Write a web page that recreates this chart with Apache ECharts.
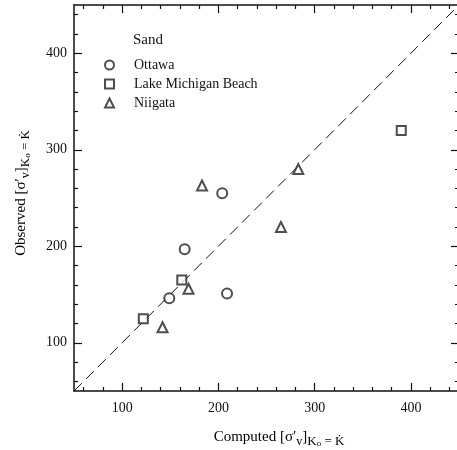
<!DOCTYPE html>
<html>
<head>
<meta charset="utf-8">
<script src="https://cdn.jsdelivr.net/npm/echarts@6/dist/echarts.min.js"></script>
<style>
  html, body { margin: 0; padding: 0; background: #fff; }
  #chart { width: 457px; height: 450px; }
</style>
</head>
<body>
<div id="chart"></div>
<script>
// data
const ottawa = [[204, 255], [165, 197], [209, 151], [149, 146]];
const lakeMichigan = [[390, 320], [162, 165], [122, 125]];
const niigata = [[183, 263], [283, 280], [265, 220], [169, 156], [142, 116]];
const oneToOne = [[50, 50], [450, 450]];

const majorTicks = [100, 200, 300, 400];
const minorTicks = [60, 80, 120, 140, 160, 180, 220, 240, 260, 280,
  320, 340, 360, 380, 420, 440];

const FONT = '"Liberation Serif", "DejaVu Serif", serif';
const INK = '#111';

function axis(dim, pos, major, showLine) {
  return {
    type: 'value',
    min: 50,
    max: 450,
    position: pos,
    axisLine: { show: showLine, onZero: false, lineStyle: { color: INK, width: 1.5 } },
    axisTick: {
      inside: true,
      length: major ? 8 : 4,
      customValues: major ? majorTicks : minorTicks,
      lineStyle: { color: INK, width: 1.2 }
    },
    axisLabel: {
      show: major && (pos === 'bottom' || pos === 'left'),
      customValues: majorTicks,
      margin: dim === 'x' ? 10 : 7,
      color: INK,
      fontFamily: FONT,
      fontSize: 14
    },
    splitLine: { show: false }
  };
}

const chart = echarts.init(document.getElementById('chart'));

const titleRich = {
  a: { fontFamily: FONT, fontSize: 15, color: INK, lineHeight: 22 },
  v: { fontFamily: FONT, fontSize: 12, color: INK, verticalAlign: 'bottom', lineHeight: 18 },
  s: { fontFamily: FONT, fontSize: 13, color: INK, verticalAlign: 'bottom' },
  ss: { fontFamily: FONT, fontSize: 9, color: INK, verticalAlign: 'bottom' }
};

chart.setOption({
  animation: false,
  title: {
    text: 'Sand',
    left: 133,
    top: 33,
    padding: 0,
    textStyle: { fontFamily: FONT, fontSize: 15, fontWeight: 'normal', color: INK }
  },
  legend: {
    orient: 'vertical',
    left: 104,
    top: 58,
    padding: 0,
    itemWidth: 9,
    itemHeight: 9,
    itemGap: 5,
    textStyle: { fontFamily: FONT, fontSize: 14, color: INK, lineHeight: 14, padding: [0, 0, 0, 15] },
    data: ['Ottawa', 'Lake Michigan Beach', 'Niigata']
  },
  grid: { left: 74, top: 5, width: 385, height: 386, outerBoundsMode: 'none' },
  xAxis: [
    axis('x', 'bottom', true, true),
    axis('x', 'bottom', false, false),
    axis('x', 'top', true, true),
    axis('x', 'top', false, false)
  ],
  yAxis: [
    axis('y', 'left', true, true),
    axis('y', 'left', false, false),
    axis('y', 'right', true, true),
    axis('y', 'right', false, false)
  ],
  graphic: [
    {
      type: 'text',
      x: 279,
      y: 437,
      style: {
        text: '{a|Computed [σ′}{v|v}{a|]}{s|K}{ss|o}{s| = K̇}',
        rich: titleRich,
        align: 'center',
        verticalAlign: 'middle'
      }
    },
    {
      type: 'text',
      x: 21,
      y: 193,
      rotation: Math.PI / 2,
      style: {
        text: '{a|Observed [σ′}{v|v}{a|]}{s|K}{ss|o}{s| = K̇}',
        rich: titleRich,
        align: 'center',
        verticalAlign: 'middle'
      }
    }
  ],
  series: [
    {
      type: 'line',
      data: oneToOne,
      symbol: 'none',
      silent: true,
      lineStyle: { color: INK, width: 1, type: [11, 6] },
      z: 1
    },
    {
      name: 'Ottawa',
      type: 'scatter',
      data: ottawa,
      symbol: 'emptyCircle',
      symbolSize: 10,
      itemStyle: { color: '#222', borderWidth: 1 }
    },
    {
      name: 'Lake Michigan Beach',
      type: 'scatter',
      data: lakeMichigan,
      symbol: 'emptyRect',
      symbolSize: 9,
      itemStyle: { color: '#222', borderWidth: 1 }
    },
    {
      name: 'Niigata',
      type: 'scatter',
      data: niigata,
      symbol: 'emptyTriangle',
      symbolSize: 10,
      itemStyle: { color: '#222', borderWidth: 1 }
    }
  ]
});
</script>
</body>
</html>
